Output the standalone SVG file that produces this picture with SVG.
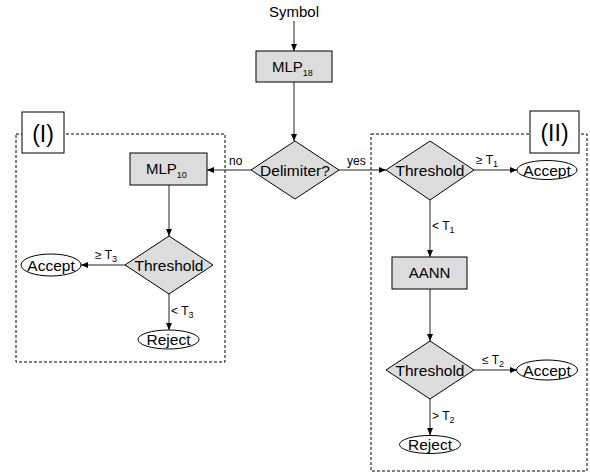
<svg xmlns="http://www.w3.org/2000/svg" width="590" height="475" viewBox="0 0 590 475">
<style>
text{font-family:"Liberation Sans",Arial,sans-serif;fill:#000}
.box{fill:#dcdcdc;stroke:#000;stroke-width:1}
.dia{fill:#dcdcdc;stroke:#000;stroke-width:1}
.ell{fill:#fff;stroke:#000;stroke-width:1}
.frame{fill:none;stroke:#000;stroke-width:1;stroke-dasharray:3,2}
.lab{fill:#fff;stroke:#000;stroke-width:1}
.c{stroke:#222;stroke-width:1;fill:none;marker-end:url(#ah)}
.t{font-size:15.5px;text-anchor:middle}
.e{font-size:15.5px;text-anchor:middle}
.s{font-size:12px}
.sub{font-size:9px}
</style>
<defs>
<marker id="ah" markerWidth="7" markerHeight="6" refX="7" refY="3" orient="auto" markerUnits="userSpaceOnUse">
<path d="M0,0 L7,3 L0,6 z" fill="#000"/>
</marker>
</defs>
<g id="frames">
<rect class="frame" x="16" y="134" width="209" height="228"/>
<rect class="frame" x="371" y="134" width="216" height="337"/>
</g>
<g id="label-I"><rect class="lab" x="22" y="112" width="42" height="41"/><text x="43" y="142" style="font-size:23px;text-anchor:middle">(I)</text></g>
<g id="label-II"><rect class="lab" x="530" y="111" width="49" height="42"/><text x="554.5" y="141" style="font-size:23px;text-anchor:middle">(II)</text></g>
<g id="connectors">
<line class="c" x1="294" y1="21" x2="294" y2="51"/>
<line class="c" x1="294" y1="82" x2="294" y2="141"/>
<line class="c" x1="251" y1="170" x2="207" y2="170"/>
<line class="c" x1="339" y1="170" x2="386" y2="170"/>
<line class="c" x1="169" y1="185" x2="169" y2="236"/>
<line class="c" x1="125" y1="265" x2="81" y2="265"/>
<line class="c" x1="169" y1="294" x2="169" y2="330"/>
<line class="c" x1="474" y1="170" x2="517" y2="170"/>
<line class="c" x1="430" y1="200" x2="430" y2="257"/>
<line class="c" x1="430" y1="289" x2="430" y2="341"/>
<line class="c" x1="474" y1="370" x2="517" y2="370"/>
<line class="c" x1="430" y1="399" x2="430" y2="435"/>
<text class="s" x="229" y="165">no</text>
<text class="s" x="347" y="165">yes</text>
<text class="s" x="476" y="164">≥ T<tspan class="sub" dy="3">1</tspan></text>
<text class="s" x="432" y="230">&lt; T<tspan class="sub" dy="3">1</tspan></text>
<text class="s" x="95" y="259">≥ T<tspan class="sub" dy="3">3</tspan></text>
<text class="s" x="171" y="315">&lt; T<tspan class="sub" dy="3">3</tspan></text>
<text class="s" x="482" y="364">≤ T<tspan class="sub" dy="3">2</tspan></text>
<text class="s" x="432" y="420">&gt; T<tspan class="sub" dy="3">2</tspan></text>
</g>
<g id="symbol"><text class="t" x="294" y="17" style="font-size:15px">Symbol</text></g>
<g id="mlp18"><rect class="box" x="256" y="51" width="76" height="31"/><text x="272" y="72" style="font-size:15px">MLP<tspan class="sub" dy="4">18</tspan></text></g>
<g id="delimiter"><polygon class="dia" points="295,141 339,170 295,199 251,170"/><text class="t" x="295" y="176">Delimiter?</text></g>
<g id="mlp10"><rect class="box" x="130" y="153" width="77" height="32"/><text x="146" y="174" style="font-size:15px">MLP<tspan class="sub" dy="4">10</tspan></text></g>
<g id="threshold3"><polygon class="dia" points="169,236 213,265 169,294 125,265"/><text class="t" x="169" y="271">Threshold</text></g>
<g id="accept3"><ellipse class="ell" cx="51" cy="265" rx="30" ry="11"/><text class="e" x="51" y="270.5">Accept</text></g>
<g id="reject3"><ellipse class="ell" cx="168.5" cy="339.5" rx="30.5" ry="9.5"/><text class="e" x="168.5" y="345">Reject</text></g>
<g id="threshold1"><polygon class="dia" points="430,141 474,170 430,200 386,170"/><text class="t" x="430" y="176">Threshold</text></g>
<g id="accept1"><ellipse class="ell" cx="547" cy="170" rx="30" ry="9.5"/><text class="e" x="547" y="175.5">Accept</text></g>
<g id="aann"><rect class="box" x="392" y="257" width="75" height="32"/><text class="t" x="429.5" y="278" style="font-size:15px">AANN</text></g>
<g id="threshold2"><polygon class="dia" points="430,341 474,370 430,399 386,370"/><text class="t" x="430" y="376">Threshold</text></g>
<g id="accept2"><ellipse class="ell" cx="547" cy="370" rx="30.5" ry="10"/><text class="e" x="547" y="375.5">Accept</text></g>
<g id="reject2"><ellipse class="ell" cx="430" cy="444.5" rx="30.5" ry="9"/><text class="e" x="430" y="450">Reject</text></g>
</svg>
